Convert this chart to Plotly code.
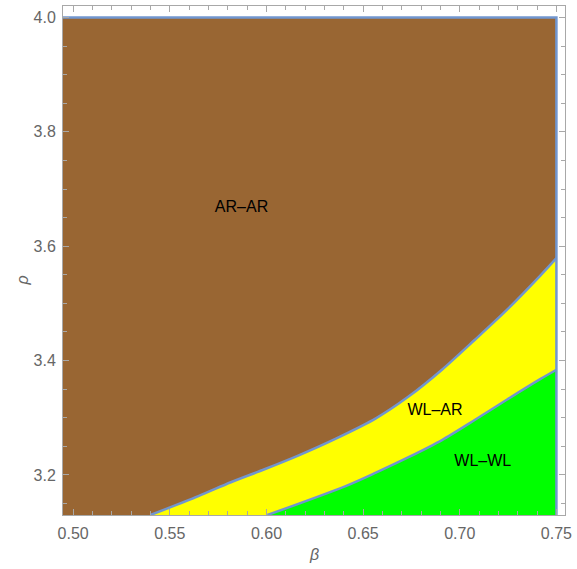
import plotly.graph_objects as go

# Boundary between AR-AR (above) and WL-AR (below)
upper_beta = [0.5400, 0.5648, 0.5816, 0.5990, 0.6158, 0.6362, 0.6566, 0.6735,
              0.6908, 0.7077, 0.7245, 0.7418, 0.7500]
upper_rho = [3.1300, 3.1630, 3.1873, 3.2100, 3.2330, 3.2640, 3.2990, 3.3370,
             3.3840, 3.4360, 3.4890, 3.5490, 3.5790]

# Boundary between WL-AR (above) and WL-WL (below)
lower_beta = [0.6005, 0.6413, 0.6566, 0.6735, 0.6908, 0.7077, 0.7245, 0.7418, 0.7500]
lower_rho = [3.1300, 3.1810, 3.2040, 3.2310, 3.2610, 3.2960, 3.3320, 3.3680, 3.3840]

# Region extents
beta_min, beta_max = 0.49, 0.75
rho_min, rho_max = 3.10, 4.0

region_labels = ["AR\u2013AR", "WL\u2013AR", "WL\u2013WL"]
label_beta = [0.5871, 0.6872, 0.7119]
label_rho = [3.6676, 3.3127, 3.2226]

x_range = [0.49475, 0.75444]
y_range = [3.130, 4.020]

BROWN = "#996633"
YELLOW = "#FFFF00"
GREEN = "#00FF00"
EDGE = "#7196cf"
FONT = "Liberation Sans, Arial, sans-serif"

fig = go.Figure()

# Brown: whole region
fig.add_trace(go.Scatter(
    x=[beta_min, beta_max, beta_max, beta_min, beta_min],
    y=[rho_min, rho_min, rho_max, rho_max, rho_min],
    fill="toself", fillcolor=BROWN, mode="none", hoverinfo="skip", showlegend=False))

# Yellow: below upper curve (boundary drawn by the same trace)
fig.add_trace(go.Scatter(
    x=upper_beta, y=upper_rho, fill="tozeroy", fillcolor=YELLOW, mode="lines",
    line=dict(color=EDGE, width=2.5, shape="spline", smoothing=0.8),
    hoverinfo="skip", showlegend=False))

# Green: below lower curve
fig.add_trace(go.Scatter(
    x=lower_beta, y=lower_rho, fill="tozeroy", fillcolor=GREEN, mode="lines",
    line=dict(color=EDGE, width=2.5, shape="spline", smoothing=0.8),
    hoverinfo="skip", showlegend=False))

# Outer boundary lines (top and right edges)
fig.add_trace(go.Scatter(
    x=[beta_min, beta_max, beta_max], y=[rho_max, rho_max, rho_min],
    mode="lines", line=dict(color=EDGE, width=2.5), hoverinfo="skip", showlegend=False))

# Region labels
fig.add_trace(go.Scatter(
    x=label_beta, y=label_rho, text=region_labels, mode="text",
    textfont=dict(family=FONT, size=16, color="black"),
    hoverinfo="skip", showlegend=False))

axis_common = dict(
    showgrid=False, zeroline=False, showline=True, linecolor="#a8a8a8", linewidth=1,
    mirror="allticks", ticks="inside", ticklen=6, tickwidth=1, tickcolor="#a8a8a8",
    tickfont=dict(family=FONT, size=16, color="#666666"),
    ticklabeloverflow="allow",
)

fig.update_xaxes(range=x_range, tick0=0.5, dtick=0.05, tickformat=".2f",
                 minor=dict(dtick=0.01, tick0=0.5, ticks="inside", ticklen=4, tickcolor="#a8a8a8", showgrid=False),
                 ticklabelstandoff=4, **axis_common)
fig.update_yaxes(range=y_range, tick0=3.2, dtick=0.2, tickformat=".1f",
                 minor=dict(dtick=0.05, tick0=3.2, ticks="inside", ticklen=4, tickcolor="#a8a8a8", showgrid=False),
                 ticklabelstandoff=3, **axis_common)

fig.add_annotation(text="<i>\u03b2</i>", xref="paper", yref="paper", x=0.5, y=-0.078,
                   xanchor="center", yanchor="middle", showarrow=False,
                   font=dict(family=FONT, size=16, color="#666666"))
fig.add_annotation(text="<i>\u03c1</i>", xref="paper", yref="paper", x=-0.0806, y=0.46,
                   xanchor="center", yanchor="middle", showarrow=False, textangle=-90,
                   font=dict(family=FONT, size=16, color="#666666"))

fig.update_layout(
    width=577, height=569,
    margin=dict(l=63, r=5, t=5, b=53.5),
    plot_bgcolor="white", paper_bgcolor="white",
)

fig.write_html("out.html", config={"displayModeBar": False},
               post_script="document.body.style.margin='0';")
